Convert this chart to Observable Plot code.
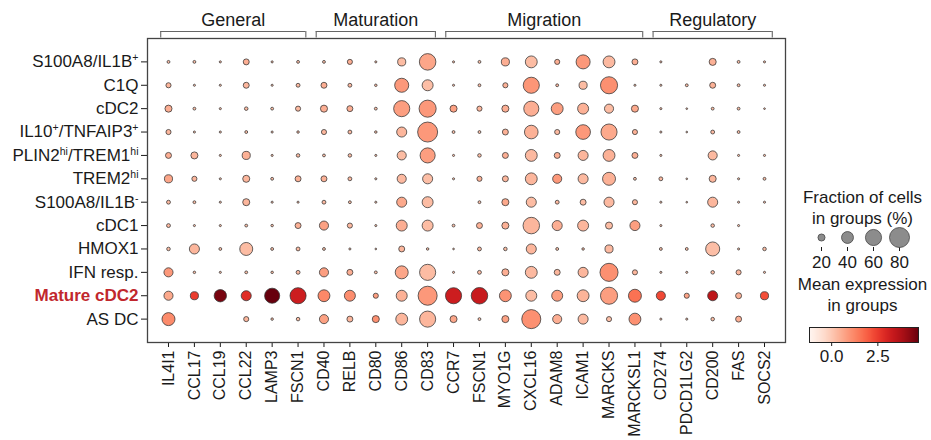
<!DOCTYPE html>
<html><head><meta charset="utf-8">
<script src="https://cdn.jsdelivr.net/npm/d3@7"></script>
<script src="https://cdn.jsdelivr.net/npm/@observablehq/plot@0.6"></script>
<style>
body{margin:0;background:#fff;font-family:"Liberation Sans",Arial,Helvetica,sans-serif;}
#wrap{position:relative;width:931px;height:440px;overflow:hidden;background:#fff;}
#wrap > *{position:absolute;}
.lg-title{text-align:center;font-size:17px;line-height:21px;color:#1a1a1a;width:145px;left:790px;}
</style></head><body><div id="wrap"></div>
<script>
// ---- data ----
const genes = ["IL4I1","CCL17","CCL19","CCL22","LAMP3","FSCN1","CD40","RELB","CD80","CD86","CD83",
  "CCR7","FSCN1","MYO1G","CXCL16","ADAM8","ICAM1","MARCKS","MARCKSL1","CD274","PDCD1LG2","CD200","FAS","SOCS2"];
const groupNames = ["General","Maturation","Migration","Regulatory"];
const groupFirst = [0, 6, 11, 19];
const groupLast = [5, 10, 18, 23];
const cellTypes = ["S100A8/IL1B^+","C1Q","cDC2","IL10^+/TNFAIP3^+","PLIN2^hi/TREM1^hi","TREM2^hi",
  "S100A8/IL1B^-","cDC1","HMOX1","IFN resp.","Mature cDC2","AS DC"];
const highlighted = "Mature cDC2";
// fraction of cells in group (%)
const fraction = [
  [6,6,4,16,4,6,6,13,4,24,62,4,6,24,40,13,50,40,16,4,null,20,6,4],
  [13,4,4,16,4,9,16,9,5,50,36,4,6,13,60,6,24,65,4,4,6,16,6,4],
  [20,6,4,8,6,13,20,16,6,60,65,20,13,20,55,40,36,28,20,4,3,6,6,3],
  [13,4,4,6,4,5,13,9,5,32,80,6,6,16,48,13,53,60,13,4,3,9,6,null],
  [16,20,4,24,4,8,6,8,4,28,55,4,8,16,40,16,32,40,16,4,null,28,4,4],
  [24,13,4,20,6,16,16,9,4,28,32,4,13,16,40,28,32,45,6,9,3,20,4,6],
  [9,6,4,20,4,4,9,6,4,32,36,null,6,20,32,9,16,32,13,4,3,32,4,4],
  [9,4,4,6,5,16,28,13,4,36,36,6,16,20,62,32,36,20,32,4,null,8,4,null],
  [8,32,6,45,6,9,6,4,3,16,5,3,9,8,32,6,5,24,null,6,6,50,4,8],
  [28,5,4,6,5,9,28,16,6,45,60,4,9,20,40,16,32,70,13,4,4,8,13,4],
  [28,24,42,32,55,60,40,36,13,36,75,60,62,40,36,36,40,65,45,28,13,32,16,24],
  [45,null,null,13,5,8,28,16,20,40,60,20,6,20,75,28,32,13,40,4,4,8,16,null]
];
// mean expression in group
const expression = [
  [0.2,0.2,0.2,0.5,0.2,0.2,0.2,0.5,0.2,0.25,0.65,0.2,0.2,0.5,0.25,0.5,0.9,0.3,0.5,0.2,null,0.45,0.2,0.2],
  [0.35,0.2,0.2,0.35,0.2,0.3,0.5,0.3,0.2,0.9,0.2,0.2,0.2,0.45,0.95,0.3,0.25,1.05,0.2,0.2,0.2,0.45,0.2,0.2],
  [0.5,0.2,0.2,0.3,0.2,0.3,0.5,0.5,0.2,0.8,0.9,0.75,0.35,0.5,0.5,0.8,0.45,0.25,0.6,0.2,0.2,0.25,0.2,0.2],
  [0.35,0.2,0.2,0.2,0.2,0.2,0.35,0.3,0.2,0.35,0.9,0.2,0.2,0.45,0.45,0.3,0.9,0.6,0.45,0.2,0.2,0.3,0.2,null],
  [0.5,0.35,0.2,0.45,0.2,0.25,0.2,0.25,0.2,0.25,0.8,0.2,0.25,0.5,0.3,0.5,0.35,0.45,0.5,0.2,null,0.3,0.2,0.2],
  [0.65,0.35,0.2,0.35,0.2,0.45,0.45,0.3,0.2,0.3,0.2,0.2,0.45,0.35,0.35,0.9,0.3,0.45,0.2,0.3,0.2,0.35,0.2,0.2],
  [0.3,0.2,0.2,0.35,0.2,0.2,0.3,0.2,0.2,0.6,0.25,null,0.2,0.6,0.25,0.3,0.25,0.3,0.35,0.2,0.2,0.35,0.2,0.2],
  [0.3,0.2,0.2,0.2,0.2,0.45,0.75,0.3,0.2,0.5,0.25,0.2,0.45,0.45,0.35,0.5,0.35,0.25,0.8,0.2,null,0.25,0.2,null],
  [0.25,0.35,0.2,0.25,0.2,0.3,0.2,0.2,0.2,0.35,0.2,0.2,0.3,0.25,0.35,0.2,0.2,0.3,null,0.2,0.2,0.2,0.2,0.25],
  [0.9,0.2,0.2,0.2,0.2,0.3,0.8,0.5,0.2,0.65,0.25,0.2,0.3,0.5,0.3,0.35,0.35,1.05,0.35,0.2,0.2,0.25,0.35,0.2],
  [0.6,2.5,4.5,2.8,4.7,3.2,1.2,1.1,0.8,0.45,0.9,3.2,3.3,1.0,0.25,0.8,0.4,0.8,1.6,2.3,0.7,3.5,0.45,2.2],
  [1.15,null,null,0.35,0.2,0.25,0.75,0.35,1.05,0.35,0.35,0.65,0.2,0.75,1.05,0.5,0.3,0.2,1.05,0.2,0.2,0.25,0.5,null]
];
const legendSizes = [20, 40, 60, 80];
const colorTicks = [0, 2.5];
const exprDomain = [-1.2, 4.7];

// ---- build tables ----
const cells = [];
cellTypes.forEach((c, i) => genes.forEach((g, j) => {
  if (fraction[i][j] != null) cells.push({row: i, col: j, frac: fraction[i][j], expr: expression[i][j]});
}));
const groups = groupNames.map((name, k) => ({name, x1: groupFirst[k] - 0.3, x2: groupLast[k] + 0.3}));

const FONT = '"Liberation Sans", Arial, Helvetica, sans-serif';
const rScale = {type: "pow", exponent: 0.75, domain: [0, 80], range: [0, 10]};
const colorScale = {type: "linear", scheme: "reds", domain: exprDomain};
const xPad = 0.81;
const rowStep = 304 / (cellTypes.length + 1);
const bracketTop = -1 - 7 / rowStep;
const bracketBottom = -1 - 0.6 / rowStep;
const groupLabelY = -1 - 18 / rowStep;

const main = Plot.plot({
  width: 931, height: 440,
  marginLeft: 147, marginRight: 146, marginTop: 38, marginBottom: 98,
  x: {type: "linear", domain: [-xPad, genes.length - 1 + xPad], ticks: d3.range(genes.length),
      tickFormat: i => genes[i], tickRotate: -90, tickSize: 5, tickPadding: 3, label: null},
  y: {type: "linear", domain: [-1, cellTypes.length], reverse: true, ticks: d3.range(cellTypes.length),
      tickFormat: i => cellTypes[i], tickSize: 6, tickPadding: 3, label: null},
  r: rScale,
  color: colorScale,
  style: {fontSize: "17px", fontFamily: FONT, color: "#1a1a1a", background: "transparent", overflow: "visible"},
  marks: [
    Plot.frame({stroke: "#444", strokeWidth: 1.3}),
    Plot.dot(cells, {x: "col", y: "row", r: "frac", fill: "expr", stroke: "#333", strokeWidth: 0.9, strokeOpacity: 0.85}),
    Plot.ruleY(groups, {x1: "x1", x2: "x2", y: () => bracketTop, stroke: "#666", strokeWidth: 1.1}),
    Plot.ruleX(groups, {x: "x1", y1: () => bracketTop, y2: () => bracketBottom, stroke: "#666", strokeWidth: 1.1}),
    Plot.ruleX(groups, {x: "x2", y1: () => bracketTop, y2: () => bracketBottom, stroke: "#666", strokeWidth: 1.1}),
    Plot.text(groups, {x: d => (d.x1 + d.x2) / 2, y: () => groupLabelY, text: "name", fontSize: 18, fill: "#1a1a1a"})
  ]
});

// column labels slightly smaller so the longest fits
main.querySelectorAll('g[aria-label="x-axis tick label"]').forEach(g => g.setAttribute("font-size", "16px"));

// superscripts & highlight in row labels
main.querySelectorAll('g[aria-label="y-axis tick label"] text').forEach(t => {
  const s = t.textContent;
  const parts = s.split(/(\^(?:\+|-|hi))/).filter(p => p !== "");
  t.textContent = "";
  let raised = false;
  parts.forEach(p => {
    const ts = document.createElementNS("http://www.w3.org/2000/svg", "tspan");
    if (p.startsWith("^")) {
      ts.textContent = p.slice(1);
      ts.setAttribute("font-size", "10.5px");
      ts.setAttribute("dy", "-6");
      raised = true;
    } else {
      ts.textContent = p;
      if (raised) { ts.setAttribute("dy", "6"); raised = false; }
    }
    t.appendChild(ts);
  });
  if (s === highlighted) { t.setAttribute("fill", "#c1272d"); t.setAttribute("font-weight", "bold"); }
});

const wrap = document.getElementById("wrap");
main.style.left = "0px"; main.style.top = "0px";
wrap.appendChild(main);

// size legend
const t1 = document.createElement("div");
t1.className = "lg-title"; t1.style.top = "187px";
t1.innerHTML = "Fraction of cells<br>in groups (%)";
wrap.appendChild(t1);

const sizePlot = Plot.plot({
  width: 120, height: 50, marginLeft: 20, marginRight: 20, marginTop: 5, marginBottom: 25,
  x: {type: "point", domain: legendSizes, padding: 0, tickSize: 4, tickPadding: 4, label: null},
  r: rScale,
  style: {fontSize: "17px", fontFamily: FONT, color: "#1a1a1a", background: "transparent", overflow: "visible"},
  marks: [Plot.dot(legendSizes, {x: d => d, r: d => d, fill: "#8c8c8c", stroke: "#444", strokeWidth: 0.8, frameAnchor: "middle"})]
});
sizePlot.style.left = "800px"; sizePlot.style.top = "222px";
wrap.appendChild(sizePlot);

// color legend
const t2 = document.createElement("div");
t2.className = "lg-title"; t2.style.top = "274px";
t2.innerHTML = "Mean expression<br>in groups";
wrap.appendChild(t2);

const barPlot = Plot.plot({
  width: 131, height: 45, marginLeft: 9, marginRight: 13, marginTop: 2, marginBottom: 28,
  x: {domain: exprDomain, ticks: colorTicks, tickFormat: d3.format(".1f"), tickSize: 4, tickPadding: 3, label: null},
  y: {domain: [0, 1], axis: null},
  color: colorScale,
  style: {fontSize: "17px", fontFamily: FONT, color: "#1a1a1a", background: "transparent", overflow: "visible"},
  marks: [
    Plot.raster({x1: exprDomain[0], x2: exprDomain[1], y1: 0, y2: 1, fill: (x, y) => x, width: 110, height: 1}),
    Plot.frame({stroke: "#222", strokeWidth: 1})
  ]
});
barPlot.style.left = "800px"; barPlot.style.top = "325px";
wrap.appendChild(barPlot);
</script></body></html>
